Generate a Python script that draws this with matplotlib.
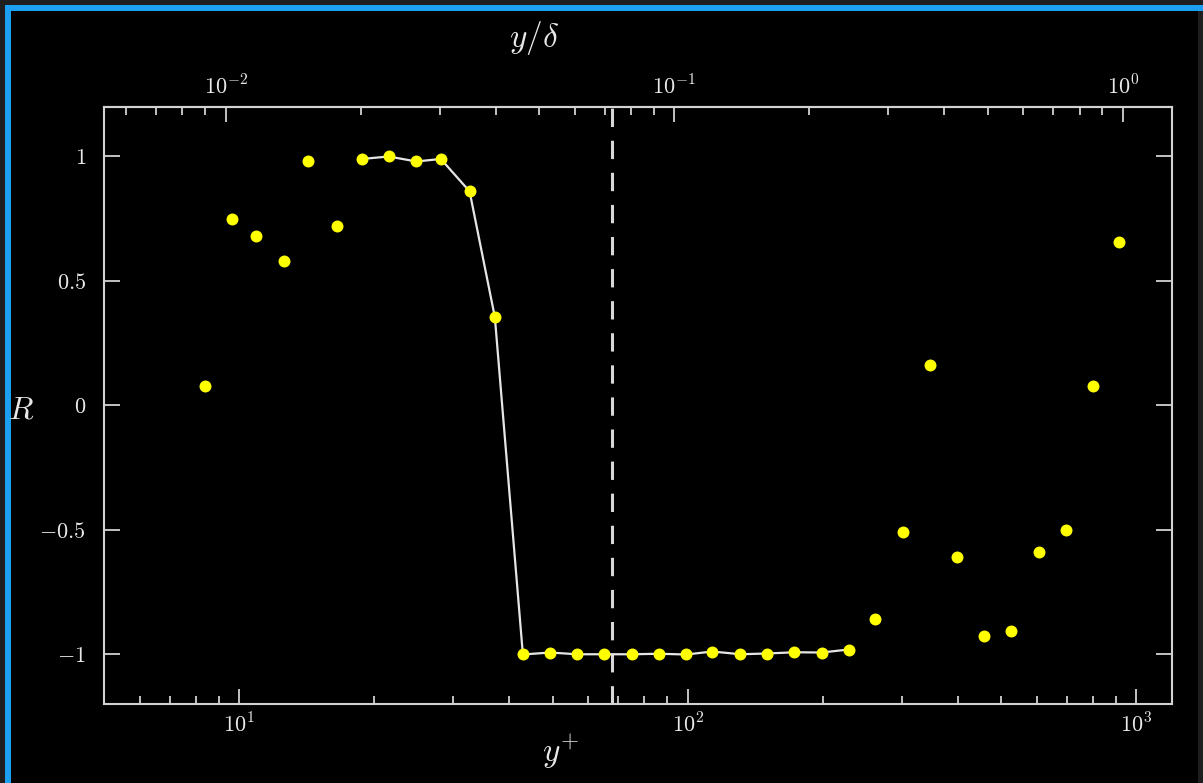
import matplotlib
matplotlib.use('Agg')
import matplotlib.pyplot as plt
from matplotlib.ticker import LogLocator, NullFormatter, FixedLocator
from matplotlib.patches import Rectangle

plt.rcParams['mathtext.fontset'] = 'cm'

# Data
y_plus = [8.41, 9.66, 10.93, 12.57, 14.22, 16.54, 18.75, 21.57, 24.82, 28.17,
          32.65, 37.17, 42.92, 49.4, 56.55, 64.94, 75.26, 86.3, 99.3, 113.5,
          131.1, 150.3, 173.0, 199.0, 228.3, 261.0, 302.0, 347.0, 398.0, 458.0,
          526.0, 606.0, 697.0, 801.0, 914.0]
R = [0.08, 0.75, 0.68, 0.58, 0.98, 0.72, 0.99, 1.0, 0.98, 0.99,
     0.86, 0.355, -1.0, -0.992, -0.999, -0.999, -0.999, -0.997, -1.0, -0.988,
     -0.999, -0.996, -0.991, -0.992, -0.98, -0.858, -0.508, 0.162, -0.608, -0.925,
     -0.905, -0.59, -0.502, 0.08, 0.656]
# the connected stretch of points (index range)
line_start, line_end = 6, 25
re_tau = 934
y_dashed = 67.9

x_ticks = [10, 100, 1000]
x_ticklabels = [r'$10^{1}$', r'$10^{2}$', r'$10^{3}$']
top_ticks = [0.01, 0.1, 1.0]
top_ticklabels = [r'$10^{-2}$', r'$10^{-1}$', r'$10^{0}$']
y_ticks = [-1, -0.5, 0, 0.5, 1]
y_ticklabels = [r'$-1$', r'$-0.5$', r'$0$', r'$0.5$', r'$1$']

fg = '#d2d2d2'
txt = '#e8e8e8'

fig = plt.figure(figsize=(12.03, 7.83), dpi=100, facecolor='black')

# screenshot frame: dark edge plus blue border on top and left
fig.patches.append(Rectangle((0, 1 - 5 / 783), 1, 5 / 783, transform=fig.transFigure,
                             facecolor='#1e1e1e', edgecolor='none', zorder=0))
fig.patches.append(Rectangle((0, 0), 5 / 1203, 1, transform=fig.transFigure,
                             facecolor='#1e1e1e', edgecolor='none', zorder=0))
fig.patches.append(Rectangle((1 - 5 / 1203, 0), 5 / 1203, 1, transform=fig.transFigure,
                             facecolor='#1e1e1e', edgecolor='none', zorder=0))
fig.patches.append(Rectangle((5 / 1203, 1 - 10.5 / 783), 1, 5.5 / 783, transform=fig.transFigure,
                             facecolor='#1ca0f2', edgecolor='none', zorder=1))
fig.patches.append(Rectangle((5 / 1203, 0), 5.5 / 1203, 1 - 5 / 783, transform=fig.transFigure,
                             facecolor='#1ca0f2', edgecolor='none', zorder=1))

ax = fig.add_axes([104 / 1203, 1 - 704.3 / 783, (1172.3 - 104) / 1203, (704.3 - 106.7) / 783])
ax.set_facecolor('black')
ax.set_xscale('log')
ax.set_xlim(5, 1203)
ax.set_ylim(-1.2, 1.2)

ax.axvline(y_dashed, color='#d8d8d8', lw=2.2, dashes=(6, 4.5), zorder=1)
ax.plot(y_plus[line_start:line_end], R[line_start:line_end], color='#e6e6e6', lw=1.6, zorder=2)
ax.plot(y_plus, R, 'o', color='#ffff00', ms=8.6, mec='none', zorder=3)

for s in ax.spines.values():
    s.set_color(fg)
    s.set_linewidth(1.5)

ax.xaxis.set_major_locator(FixedLocator(x_ticks))
ax.set_xticklabels(x_ticklabels)
ax.xaxis.set_minor_locator(LogLocator(base=10, subs=range(2, 10)))
ax.xaxis.set_minor_formatter(NullFormatter())
ax.set_yticks(y_ticks)
ax.set_yticklabels(y_ticklabels)

ax.tick_params(axis='x', which='major', direction='in', length=11, width=1.3, color=fg,
               labelcolor=txt, labelsize=16, pad=6, top=False)
ax.tick_params(axis='x', which='minor', direction='in', length=6, width=1.3, color=fg, top=False)
ax.tick_params(axis='y', which='major', direction='in', length=11.5, width=1.3, color=fg,
               labelcolor=txt, labelsize=16, pad=13, right=True)

top = ax.secondary_xaxis('top', functions=(lambda x: x / re_tau, lambda x: x * re_tau))
top.xaxis.set_major_locator(FixedLocator(top_ticks))
top.set_xticklabels(top_ticklabels)
top.xaxis.set_minor_locator(LogLocator(base=10, subs=range(2, 10)))
top.xaxis.set_minor_formatter(NullFormatter())
top.spines['top'].set_color(fg)
top.spines['top'].set_linewidth(1.5)
top.tick_params(axis='x', which='major', direction='in', length=11, width=1.3, color=fg,
                labelcolor=txt, labelsize=16, pad=6)
top.tick_params(axis='x', which='minor', direction='in', length=6, width=1.3, color=fg)

fig.text(534 / 1203, 1 - 38 / 783, r'$y/\delta$', color=txt, fontsize=24, ha='center', va='center')
fig.text(561 / 1203, 1 - 752 / 783, r'$y^{+}$', color=txt, fontsize=24, ha='center', va='center')
fig.text(21 / 1203, 1 - 410 / 783, r'$R$', color=txt, fontsize=23, ha='center', va='center')

fig.savefig('out.png', dpi=100, facecolor=fig.get_facecolor())
